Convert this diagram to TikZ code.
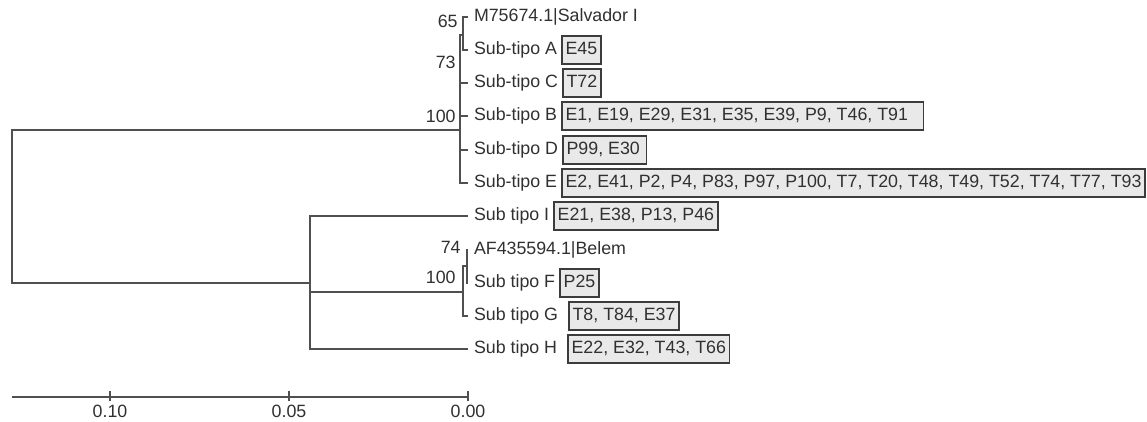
\documentclass[tikz,border=0pt]{standalone}
\usepackage{fontspec}
\setmainfont{Liberation Sans}
\usetikzlibrary{positioning}
\definecolor{treegray}{HTML}{505050}
\definecolor{labgray}{HTML}{303030}
\definecolor{tagfill}{HTML}{E9E9E9}
\definecolor{tagline}{HTML}{3C3C3C}

\begin{document}
\begin{tikzpicture}[x=0.5pt, y=-0.5pt,
  font=\fontsize{8.9}{10.5}\selectfont, text=labgray,
  branch/.style={draw=treegray, line width=1.1pt},
  leaf/.style={anchor=west, inner sep=0pt, outer sep=3pt,
               text height=6.6pt, text depth=1.8pt},
  tagbox/.style={draw=tagline, fill=tagfill, line width=0.9pt,
                 minimum height=14pt, inner xsep=1.8pt, inner ysep=0pt,
                 text height=6.6pt, text depth=1.8pt},
  boot/.style={anchor=east, inner sep=0pt}]
  \useasboundingbox (0,0) rectangle (1147,422);

  % leaves
  \node[leaf] (lM) at (468,17) {M75674.1|Salvador I};
  \node[leaf] (lA) at (468,50) {Sub-tipo A};
  \node[leaf] (lC) at (468,83) {Sub-tipo C};
  \node[leaf] (lB) at (468,116) {Sub-tipo B};
  \node[leaf] (lD) at (468,150) {Sub-tipo D};
  \node[leaf] (lE) at (468,183) {Sub-tipo E};
  \node[leaf] (lI) at (468,216) {Sub tipo I};
  \node[leaf] (lAF) at (468,250) {AF435594.1|Belem};
  \node[leaf] (lF) at (468,283) {Sub tipo F};
  \node[leaf] (lG) at (468,316) {Sub tipo G};
  \node[leaf] (lH) at (468,349) {Sub tipo H};

  % isolate boxes
  \node[tagbox, right=-1pt of lA] (bA) {E45};
  \node[tagbox, right=-1pt of lC] (bC) {T72};
  \node[tagbox, right=-1pt of lB] (bB) {E1, E19, E29, E31, E35, E39, P9, T46, T91\hspace*{6pt}};
  \node[tagbox, right=-1pt of lD] (bD) {P99, E30\hspace*{1.5pt}};
  \node[tagbox, right=-1pt of lE] (bE) {E2, E41, P2, P4, P83, P97, P100, T7, T20, T48, T49, T52, T74, T77, T93};
  \node[tagbox, right=-1pt of lI] (bI) {E21, E38, P13, P46};
  \node[tagbox, right=-1pt of lF] (bF) {P25};
  \node[tagbox, right=2pt of lG] (bG) {T8, T84, E37};
  \node[tagbox, right=2pt of lH] (bH) {E22, E32, T43, T66};

  % internal nodes
  \coordinate (root) at (12,206);
  \coordinate (n100) at (460,130);
  \coordinate (n65) at (463,35);
  \coordinate (nII) at (310,283);
  \coordinate (nFG) at (463,292);
  \coordinate (n74) at (467,266);

  % branches
  \draw[branch] (root) |- (n100);
  \draw[branch] (root) |- (nII);
  \draw[branch] (n100) |- (n65);
  \draw[branch] (n65) |- (lM.west);
  \draw[branch] (n65) |- (lA.west);
  \foreach \t in {lC,lB,lD,lE}
    \draw[branch] (n100) |- (\t.west);
  \foreach \t in {lI,lH}
    \draw[branch] (nII) |- (\t.west);
  \draw[branch] (nII) |- (nFG);
  \draw[branch] (nFG) |- (n74);
  \draw[branch] (nFG) |- (lG.west);
  \draw[branch] (n74) |- (lAF.west);
  \draw[branch] (n74) |- (lF.west);

  % bootstrap values
  \node[boot] (s65) at (458,21) {65};
  \node[boot] (s73) at (456,62) {73};
  \node[boot] (s100a) at (456,116) {100};
  \node[boot] (s74) at (461,247) {74};
  \node[boot] (s100b) at (456,277) {100};

  % scale bar
  \coordinate (sL) at (12,397);
  \coordinate (sR) at (468,397);
  \draw[branch] (sL) -- (sR);
  \foreach \x/\v in {110/0.10, 289/0.05, 468/0.00} {
    \draw[branch] (\x,391) -- (\x,401);
    \node[inner sep=0pt] (t\x) at (\x,411) {\v};
  }
\end{tikzpicture}
\end{document}
